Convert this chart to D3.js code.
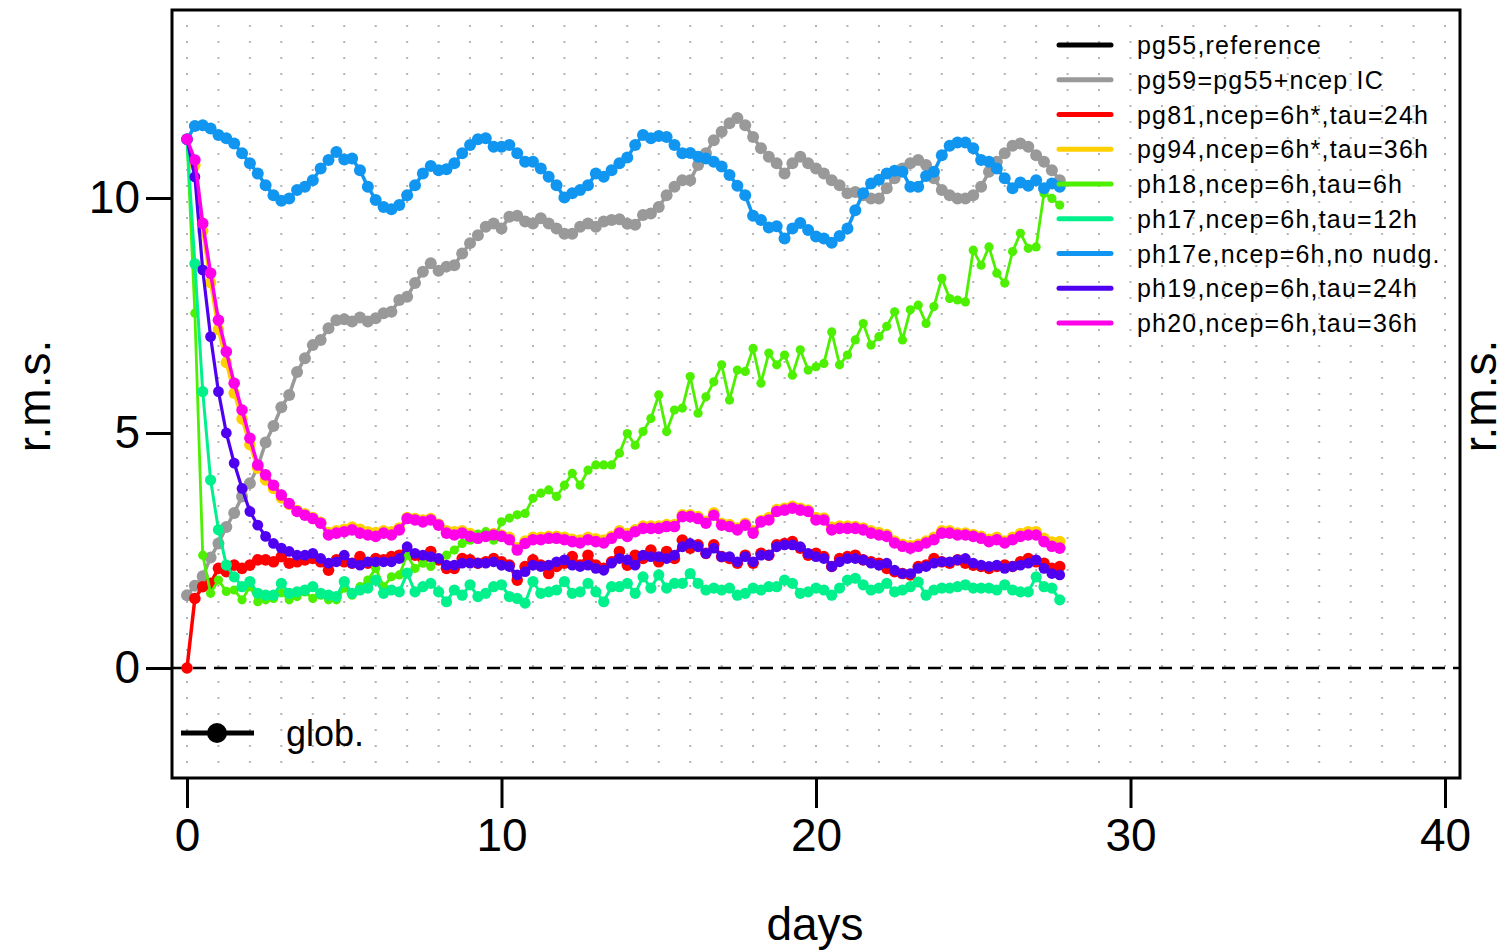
<!DOCTYPE html>
<html>
<head>
<meta charset="utf-8">
<script src="https://cdn.jsdelivr.net/npm/d3@7"></script>
<style>
  html, body { margin: 0; padding: 0; background: #ffffff; }
  svg { display: block; }
  text { font-family: "Liberation Sans", Arial, Helvetica, sans-serif; fill: #000; }
</style>
</head>
<body>
<svg id="chart" width="1499" height="950"></svg>
<script>
// ---------------- data ----------------
// sample times: every 6 h (0.25 day) from day 0 to day 27.75
const days = d3.range(112).map(i => i * 0.25);

const xTicks = [0, 10, 20, 30, 40];
const yTicks = [0, 5, 10];

const legendLabels = [
  "pg55, reference",
  "pg59=pg55+ncep IC",
  "pg81, ncep=6h*, tau=24h",
  "pg94, ncep=6h*, tau=36h",
  "ph18, ncep=6h, tau=6h",
  "ph17, ncep=6h, tau=12h",
  "ph17e, ncep=6h, no nudg.",
  "ph19, ncep=6h, tau=24h",
  "ph20, ncep=6h, tau=36h"
];
const legendColors = ["#000000", "#999999", "#ff0000", "#ffd000", "#4cf000", "#00f08c", "#1096f0", "#5000f0", "#ff00e8"];

const pg59 = [1.55,1.75,1.95,2.35,2.65,3.0,3.3,3.65,3.93,4.28,4.8,5.15,5.55,5.81,6.3,6.59,
  6.87,6.98,7.23,7.40,7.42,7.37,7.46,7.37,7.44,7.55,7.58,7.83,7.90,8.19,8.43,8.61,
  8.45,8.54,8.57,8.82,9.04,9.21,9.39,9.46,9.35,9.60,9.62,9.50,9.46,9.57,9.46,9.35,
  9.24,9.24,9.39,9.46,9.39,9.50,9.53,9.55,9.45,9.43,9.64,9.67,9.81,10.06,10.24,10.38,
  10.38,10.70,10.95,11.23,11.41,11.59,11.70,11.55,11.30,11.06,10.88,10.74,10.52,10.74,10.88,10.74,
  10.63,10.52,10.38,10.27,10.10,10.13,10.06,9.99,9.99,10.21,10.42,10.63,10.74,10.81,10.70,10.42,
  10.17,10.06,9.99,9.99,10.06,10.24,10.56,10.77,10.95,11.11,11.16,11.09,10.91,10.77,10.59,10.38];

const pg81 = [0,1.48,1.73,1.80,2.12,2.05,2.19,2.12,2.19,2.30,2.30,2.26,2.37,2.23,2.26,2.30,
  2.33,2.26,2.08,2.30,2.26,2.23,2.37,2.23,2.33,2.30,2.37,2.40,2.48,2.40,2.33,2.48,
  2.30,2.12,2.12,2.33,2.30,2.23,2.26,2.33,2.26,2.19,1.87,2.16,2.30,2.19,2.01,2.16,
  2.23,2.37,2.19,2.40,2.19,2.12,2.26,2.48,2.19,2.40,2.33,2.51,2.26,2.48,2.33,2.72,
  2.55,2.62,2.44,2.62,2.37,2.33,2.23,2.40,2.23,2.44,2.40,2.62,2.65,2.69,2.55,2.40,
  2.44,2.37,2.16,2.33,2.37,2.40,2.30,2.26,2.23,2.12,2.05,2.01,1.98,2.16,2.19,2.33,
  2.26,2.23,2.30,2.23,2.19,2.16,2.12,2.16,2.19,2.16,2.26,2.33,2.26,2.23,2.12,2.16];

const pg94 = [11.25,10.7,9.3,8.2,7.2,6.5,5.85,5.3,4.75,4.25,4.0,3.82,3.62,3.48,3.35,3.28,
  3.2,3.1,2.88,2.92,2.95,3.0,2.95,2.9,2.88,2.92,2.9,2.98,3.2,3.18,3.15,3.18,
  3.06,2.92,2.9,2.92,2.86,2.8,2.84,2.86,2.83,2.78,2.56,2.7,2.78,2.78,2.8,2.8,
  2.78,2.74,2.72,2.78,2.75,2.72,2.8,2.92,2.86,2.94,3.02,3.02,3.02,3.05,3.05,3.26,
  3.26,3.22,3.12,3.3,3.08,3.05,2.98,3.08,2.92,3.14,3.2,3.37,3.4,3.44,3.4,3.36,
  3.2,3.19,3.0,3.02,3.02,3.01,2.98,2.92,2.88,2.84,2.7,2.63,2.6,2.63,2.7,2.78,
  2.92,2.92,2.87,2.87,2.84,2.8,2.74,2.78,2.7,2.78,2.86,2.9,2.9,2.76,2.68,2.69];

const ph18 = [11.25,7.55,2.40,1.59,1.87,1.63,1.66,1.45,1.73,1.41,1.45,1.48,1.60,1.45,1.52,1.62,
  1.48,1.55,1.45,1.45,1.70,1.55,1.73,1.87,2.12,1.73,1.94,1.98,2.40,2.12,2.23,2.16,
  2.33,2.40,2.51,2.65,2.72,2.85,2.90,2.72,3.11,3.19,3.26,3.29,3.61,3.72,3.79,3.65,
  3.89,4.14,3.89,4.21,4.32,4.32,4.32,4.57,4.99,4.74,5.03,5.31,5.81,5.03,5.49,5.53,
  6.20,5.42,5.77,6.09,6.45,5.70,6.34,6.31,6.80,6.06,6.70,6.45,6.66,6.23,6.77,6.34,
  6.41,6.48,7.15,6.45,6.66,6.98,7.33,6.87,7.05,7.27,7.58,6.98,7.62,7.72,7.33,7.69,
  8.29,7.86,7.83,7.79,8.89,8.57,8.96,8.40,8.19,8.86,9.25,8.93,8.96,10.10,9.99,9.85];

const ph17 = [11.25,8.6,5.88,4.0,2.94,2.19,1.94,1.73,1.84,1.59,1.55,1.55,1.80,1.59,1.62,1.66,
  1.73,1.59,1.55,1.52,1.84,1.59,1.66,1.70,1.87,1.59,1.66,1.62,2.02,1.62,1.73,1.80,
  1.62,1.41,1.66,1.55,1.77,1.52,1.59,1.73,1.77,1.52,1.48,1.38,1.84,1.59,1.62,1.66,
  1.84,1.59,1.62,1.80,1.62,1.41,1.73,1.73,1.80,1.59,1.94,1.70,1.98,1.70,1.80,1.80,
  2.01,1.80,1.66,1.70,1.66,1.70,1.55,1.59,1.70,1.66,1.73,1.73,1.87,1.80,1.59,1.62,
  1.70,1.66,1.55,1.70,1.87,1.91,1.77,1.66,1.70,1.80,1.62,1.66,1.73,1.83,1.55,1.66,
  1.70,1.70,1.73,1.77,1.70,1.70,1.70,1.66,1.77,1.66,1.62,1.62,1.94,1.73,1.70,1.45];

const ph17e = [11.25,11.53,11.55,11.48,11.34,11.27,11.16,10.95,10.74,10.52,10.27,10.06,9.94,9.99,10.17,10.24,
  10.38,10.63,10.81,10.98,10.82,10.84,10.59,10.24,9.96,9.81,9.76,9.85,10.06,10.27,10.52,10.68,
  10.59,10.61,10.74,10.95,11.13,11.25,11.27,11.09,11.09,11.13,10.95,10.77,10.77,10.63,10.45,10.27,
  10.01,10.10,10.17,10.27,10.52,10.45,10.59,10.74,10.86,11.13,11.34,11.27,11.32,11.30,11.13,10.95,
  10.96,10.88,10.84,10.77,10.67,10.49,10.26,10.06,9.62,9.53,9.37,9.40,9.14,9.35,9.47,9.32,
  9.18,9.14,9.05,9.19,9.35,9.74,10.10,10.31,10.39,10.52,10.58,10.56,10.24,10.24,10.47,10.56,
  10.91,11.11,11.18,11.18,11.06,10.81,10.77,10.63,10.42,10.21,10.33,10.26,10.38,10.21,10.31,10.24];

const ph19 = [11.25,10.45,8.47,7.05,5.88,5.0,4.36,3.82,3.33,3.04,2.80,2.65,2.55,2.48,2.40,2.40,
  2.44,2.33,2.23,2.26,2.40,2.23,2.19,2.26,2.26,2.26,2.26,2.33,2.58,2.44,2.40,2.37,
  2.33,2.19,2.19,2.23,2.23,2.23,2.23,2.26,2.19,2.16,1.98,2.05,2.19,2.16,2.19,2.26,
  2.30,2.19,2.16,2.19,2.12,2.08,2.23,2.33,2.30,2.19,2.40,2.37,2.37,2.33,2.40,2.58,
  2.65,2.58,2.44,2.55,2.37,2.37,2.26,2.37,2.26,2.40,2.40,2.58,2.62,2.62,2.58,2.44,
  2.37,2.33,2.16,2.26,2.33,2.33,2.30,2.23,2.19,2.23,2.08,2.01,2.01,2.12,2.16,2.23,
  2.26,2.26,2.30,2.33,2.23,2.19,2.16,2.19,2.12,2.16,2.19,2.23,2.30,2.12,2.01,1.98];

const ph20 = [11.25,10.81,9.46,8.40,7.40,6.73,6.06,5.49,4.89,4.32,4.11,3.89,3.68,3.50,3.33,3.25,
  3.18,3.08,2.83,2.87,2.90,2.94,2.87,2.83,2.80,2.87,2.83,2.94,3.18,3.15,3.11,3.15,
  3.04,2.87,2.83,2.87,2.80,2.76,2.80,2.83,2.80,2.73,2.51,2.65,2.73,2.73,2.76,2.76,
  2.73,2.69,2.66,2.73,2.69,2.66,2.76,2.87,2.80,2.90,2.97,2.97,2.97,3.01,3.01,3.22,
  3.22,3.18,3.08,3.25,3.04,3.01,2.94,3.04,2.87,3.11,3.15,3.33,3.36,3.40,3.36,3.33,
  3.15,3.15,2.94,2.97,2.97,2.97,2.94,2.87,2.83,2.80,2.66,2.59,2.55,2.59,2.66,2.73,
  2.87,2.87,2.83,2.83,2.80,2.76,2.69,2.73,2.66,2.73,2.80,2.83,2.83,2.69,2.59,2.55];

const seriesList = [
  { name: "pg59", values: pg59, color: legendColors[1], r: 6, w: 3.5 },
  { name: "pg81", values: pg81, color: legendColors[2], r: 5.8, w: 3.5 },
  { name: "pg94", values: pg94, color: legendColors[3], r: 5.8, w: 3.5 },
  { name: "ph18", values: ph18, color: legendColors[4], r: 4.6, w: 2.8 },
  { name: "ph17", values: ph17, color: legendColors[5], r: 5.6, w: 3 },
  { name: "ph17e", values: ph17e, color: legendColors[6], r: 6, w: 3.5 },
  { name: "ph19", values: ph19, color: legendColors[7], r: 5.4, w: 3.2 },
  { name: "ph20", values: ph20, color: legendColors[8], r: 5.8, w: 3.5 }
];

// ---------------- layout ----------------
const svg = d3.select("#chart");
const box = { left: 172, right: 1460, top: 10, bottom: 778 };
const x = d3.scaleLinear().domain([-0.477, 40.477]).range([box.left, box.right]);
const y = d3.scaleLinear().domain([-2.34, 14.0]).range([box.bottom, box.top]);

svg.append("rect").attr("width", 1499).attr("height", 950).attr("fill", "#fff");

// grid dots
const gridG = svg.append("g");
const yDom = y.domain();
const gridY = d3.range(1, 48).map(k => yDom[0] + k * (yDom[1] - yDom[0]) / 48);
const gridX = d3.range(0, 41);
gridX.forEach(gx => {
  gridY.forEach(gy => {
    gridG.append("rect")
      .attr("x", x(gx) - 1).attr("y", y(gy) - 1)
      .attr("width", 2).attr("height", 2)
      .attr("fill", "#b4b4b4");
  });
});

// zero dashed line
svg.append("line")
  .attr("x1", box.left).attr("x2", box.right)
  .attr("y1", y(0)).attr("y2", y(0))
  .attr("stroke", "#000").attr("stroke-width", 2.5)
  .attr("stroke-dasharray", "13,8");

// series
const line = d3.line().x((d, i) => x(days[i])).y(d => y(d));
seriesList.forEach(s => {
  const g = svg.append("g");
  g.append("path").datum(s.values)
    .attr("d", line)
    .attr("fill", "none")
    .attr("stroke", s.color)
    .attr("stroke-width", s.w)
    .attr("stroke-linejoin", "round");
  g.selectAll("circle").data(s.values).join("circle")
    .attr("cx", (d, i) => x(days[i]))
    .attr("cy", d => y(d))
    .attr("r", s.r)
    .attr("fill", s.color);
});

// frame
svg.append("rect")
  .attr("x", box.left).attr("y", box.top)
  .attr("width", box.right - box.left).attr("height", box.bottom - box.top)
  .attr("fill", "none").attr("stroke", "#000").attr("stroke-width", 3);

// x axis
const xAxis = d3.axisBottom(x).tickValues(xTicks).tickSize(30).tickPadding(10).tickFormat(d3.format("d"));
const gx = svg.append("g").attr("transform", `translate(0,${box.bottom})`).call(xAxis);
gx.select(".domain").remove();
gx.selectAll(".tick line").attr("stroke", "#000").attr("stroke-width", 3);
gx.selectAll(".tick text").attr("font-size", 46).attr("font-family", "Liberation Sans, Arial, sans-serif").attr("fill", "#000");

// y axis
const yAxis = d3.axisLeft(y).tickValues(yTicks).tickSize(26).tickPadding(6).tickFormat(d3.format("d"));
const gy = svg.append("g").attr("transform", `translate(${box.left},0)`).call(yAxis);
gy.select(".domain").remove();
gy.selectAll(".tick line").attr("stroke", "#000").attr("stroke-width", 3);
gy.selectAll(".tick text").attr("font-size", 46).attr("font-family", "Liberation Sans, Arial, sans-serif").attr("fill", "#000");

// axis titles
svg.append("text").attr("x", 815).attr("y", 940).attr("text-anchor", "middle")
  .attr("font-size", 46).text("days");
svg.append("text").attr("transform", "translate(50,396) rotate(-90)").attr("text-anchor", "middle")
  .attr("font-size", 46).text("r.m.s.");
svg.append("text").attr("transform", "translate(1496,396) rotate(-90)").attr("text-anchor", "middle")
  .attr("font-size", 46).text("r.m.s.");

// legend (top right)
const lg = svg.append("g");
legendLabels.forEach((lab, i) => {
  const cy = 45 + i * 34.75;
  lg.append("line").attr("x1", 1059).attr("x2", 1111).attr("y1", cy).attr("y2", cy)
    .attr("stroke", legendColors[i]).attr("stroke-width", 5).attr("stroke-linecap", "round");
  lg.append("text").attr("x", 1137).attr("y", cy + 9)
    .attr("font-size", 25).attr("letter-spacing", "1.2px").text(lab.replace(/, /g, ","));
});

// legend (bottom left)
svg.append("line").attr("x1", 181).attr("x2", 254).attr("y1", 733).attr("y2", 733)
  .attr("stroke", "#000").attr("stroke-width", 5);
svg.append("circle").attr("cx", 217).attr("cy", 733).attr("r", 10).attr("fill", "#000");
svg.append("text").attr("x", 286).attr("y", 746).attr("font-size", 36).text("glob.");
</script>
</body>
</html>
